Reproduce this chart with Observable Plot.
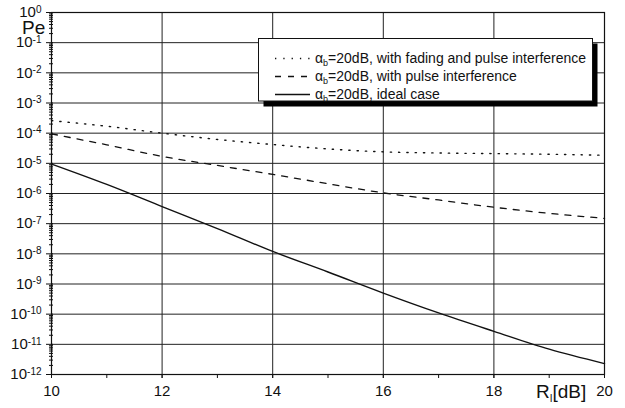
<!DOCTYPE html>
<html>
<head>
<meta charset="utf-8">
<script src="https://cdn.jsdelivr.net/npm/d3@7"></script>
<script src="https://cdn.jsdelivr.net/npm/@observablehq/plot@0.6"></script>
<style>
  html, body { margin: 0; padding: 0; background: #fff; }
  #chart { width: 625px; height: 408px; position: relative; }
</style>
</head>
<body>
<div id="chart"></div>
<script>
// ---- data ----
const rdB = [10, 11, 12, 13, 14, 15, 16, 17, 18, 19, 20];
const peFadingPulse = [2.6e-4, 1.7e-4, 1.0e-4, 6.2e-5, 4.2e-5, 3.0e-5, 2.4e-5, 2.2e-5, 2.1e-5, 2.0e-5, 1.85e-5];
const pePulse = [9.5e-5, 4.1e-5, 1.7e-5, 8.5e-6, 4.3e-6, 2.1e-6, 1.05e-6, 6.1e-7, 3.5e-7, 2.2e-7, 1.5e-7];
const peIdeal = [9.5e-6, 2.0e-6, 3.7e-7, 6.9e-8, 1.2e-8, 2.5e-9, 5e-10, 1.1e-10, 2.7e-11, 6.9e-12, 2.3e-12];

const seriesNames = [
  "=20dB, with fading and pulse interference",
  "=20dB, with pulse interference",
  "=20dB, ideal case"
];
const xMajorTicks = [10, 12, 14, 16, 18, 20];
const xMinorTicks = [10, 11, 12, 13, 14, 15, 16, 17, 18, 19, 20];
const yExponents = [0, -1, -2, -3, -4, -5, -6, -7, -8, -9, -10, -11, -12];
const yLabel = "Pe";
const xLabelMain = "R";
const xLabelSub = "I";
const xLabelUnit = "[dB]";

// tables for the library
const yMajor = yExponents.map(e => Math.pow(10, e));
const yMinor = [];
for (const e of yExponents.slice(0, -1)) {
  for (let m = 2; m <= 9; m++) yMinor.push(m * Math.pow(10, e - 1));
}
const mk = vals => rdB.map((x, i) => ({x, y: vals[i]}));
const dFading = mk(peFadingPulse);
const dPulse = mk(pePulse);
const dIdeal = mk(peIdeal);

const styles = [
  {dash: "1.3,7", width: 1.4},
  {dash: "6,7", width: 1.3},
  {dash: null, width: 1.4}
];

const ink = "#111";
const gridInk = "#222";

const plot = Plot.plot({
  width: 625,
  height: 408,
  marginLeft: 51,
  marginRight: 21,
  marginTop: 12,
  marginBottom: 34,
  style: {fontFamily: "'Liberation Sans', Arial, sans-serif", fontSize: "15px", background: "#fff", color: ink},
  x: {domain: [10, 20], label: null},
  y: {type: "log", domain: [1e-12, 1], label: null},
  marks: [
    Plot.gridY(yMajor, {stroke: gridInk, strokeOpacity: 1, strokeWidth: 1}),
    Plot.gridX(xMajorTicks, {stroke: gridInk, strokeOpacity: 1, strokeWidth: 1}),
    Plot.frame({stroke: ink, strokeWidth: 1.2}),
    Plot.axisY(yMinor, {tickSize: 4, insetLeft: 2, text: null, stroke: ink}),
    Plot.axisY(yMajor, {tickSize: 7, insetLeft: 2, tickPadding: 5, stroke: ink, tickFormat: d => "E" + Math.round(Math.log10(d))}),
    Plot.axisX(xMinorTicks, {tickSize: 4, text: null, stroke: ink}),
    Plot.axisX(xMajorTicks, {tickSize: 4, tickPadding: 7, stroke: ink, tickFormat: d => String(d)}),
    Plot.line(dFading, {x: "x", y: "y", stroke: ink, strokeWidth: styles[0].width, strokeDasharray: styles[0].dash, curve: "monotone-x"}),
    Plot.line(dPulse, {x: "x", y: "y", stroke: ink, strokeWidth: styles[1].width, strokeDasharray: styles[1].dash, curve: "monotone-x"}),
    Plot.line(dIdeal, {x: "x", y: "y", stroke: ink, strokeWidth: styles[2].width, curve: "monotone-x"})
  ]
});

document.getElementById("chart").appendChild(plot);

const svg = d3.select(plot);

// y tick labels as 10 with superscript exponent
svg.selectAll("g[aria-label='y-axis tick label'] text").each(function() {
  const t = d3.select(this);
  const s = t.text();
  if (!s.startsWith("E")) return;
  const e = s.slice(1);
  t.text("10");
  t.append("tspan").attr("dy", "-0.45em").attr("font-size", "10px").text(e);
});

// axis titles
svg.append("text")
  .attr("x", 22).attr("y", 34)
  .attr("text-anchor", "start")
  .attr("font-size", "19px").attr("fill", ink)
  .text(yLabel);

const xl = svg.append("text")
  .attr("x", 536).attr("y", 398)
  .attr("text-anchor", "start")
  .attr("font-size", "19px").attr("fill", ink);
xl.append("tspan").text(xLabelMain);
xl.append("tspan").attr("font-size", "10px").attr("dy", "4").text(xLabelSub);
xl.append("tspan").attr("dy", "-4").text(xLabelUnit);

// legend
const lg = svg.append("g").attr("font-size", "14px").attr("fill", ink).attr("text-anchor", "start");
lg.append("rect").attr("x", 263.5).attr("y", 43.5).attr("width", 334).attr("height", 63).attr("fill", "#000");
lg.append("rect").attr("x", 258.5).attr("y", 38.5).attr("width", 334).attr("height", 62.5)
  .attr("fill", "#fff").attr("stroke", ink).attr("stroke-width", 1);
const baselines = [63, 81, 99];
seriesNames.forEach((name, i) => {
  const b = baselines[i];
  lg.append("line")
    .attr("x1", 275).attr("x2", 310)
    .attr("y1", b - 4.5).attr("y2", b - 4.5)
    .attr("stroke", ink).attr("stroke-width", styles[i].width)
    .attr("stroke-dasharray", styles[i].dash);
  const t = lg.append("text").attr("x", 315).attr("y", b).attr("text-anchor", "start");
  t.append("tspan").text("α");
  t.append("tspan").attr("font-size", "9px").attr("dy", "3").text("b");
  t.append("tspan").attr("dy", "-3").text(name);
});
</script>
</body>
</html>
